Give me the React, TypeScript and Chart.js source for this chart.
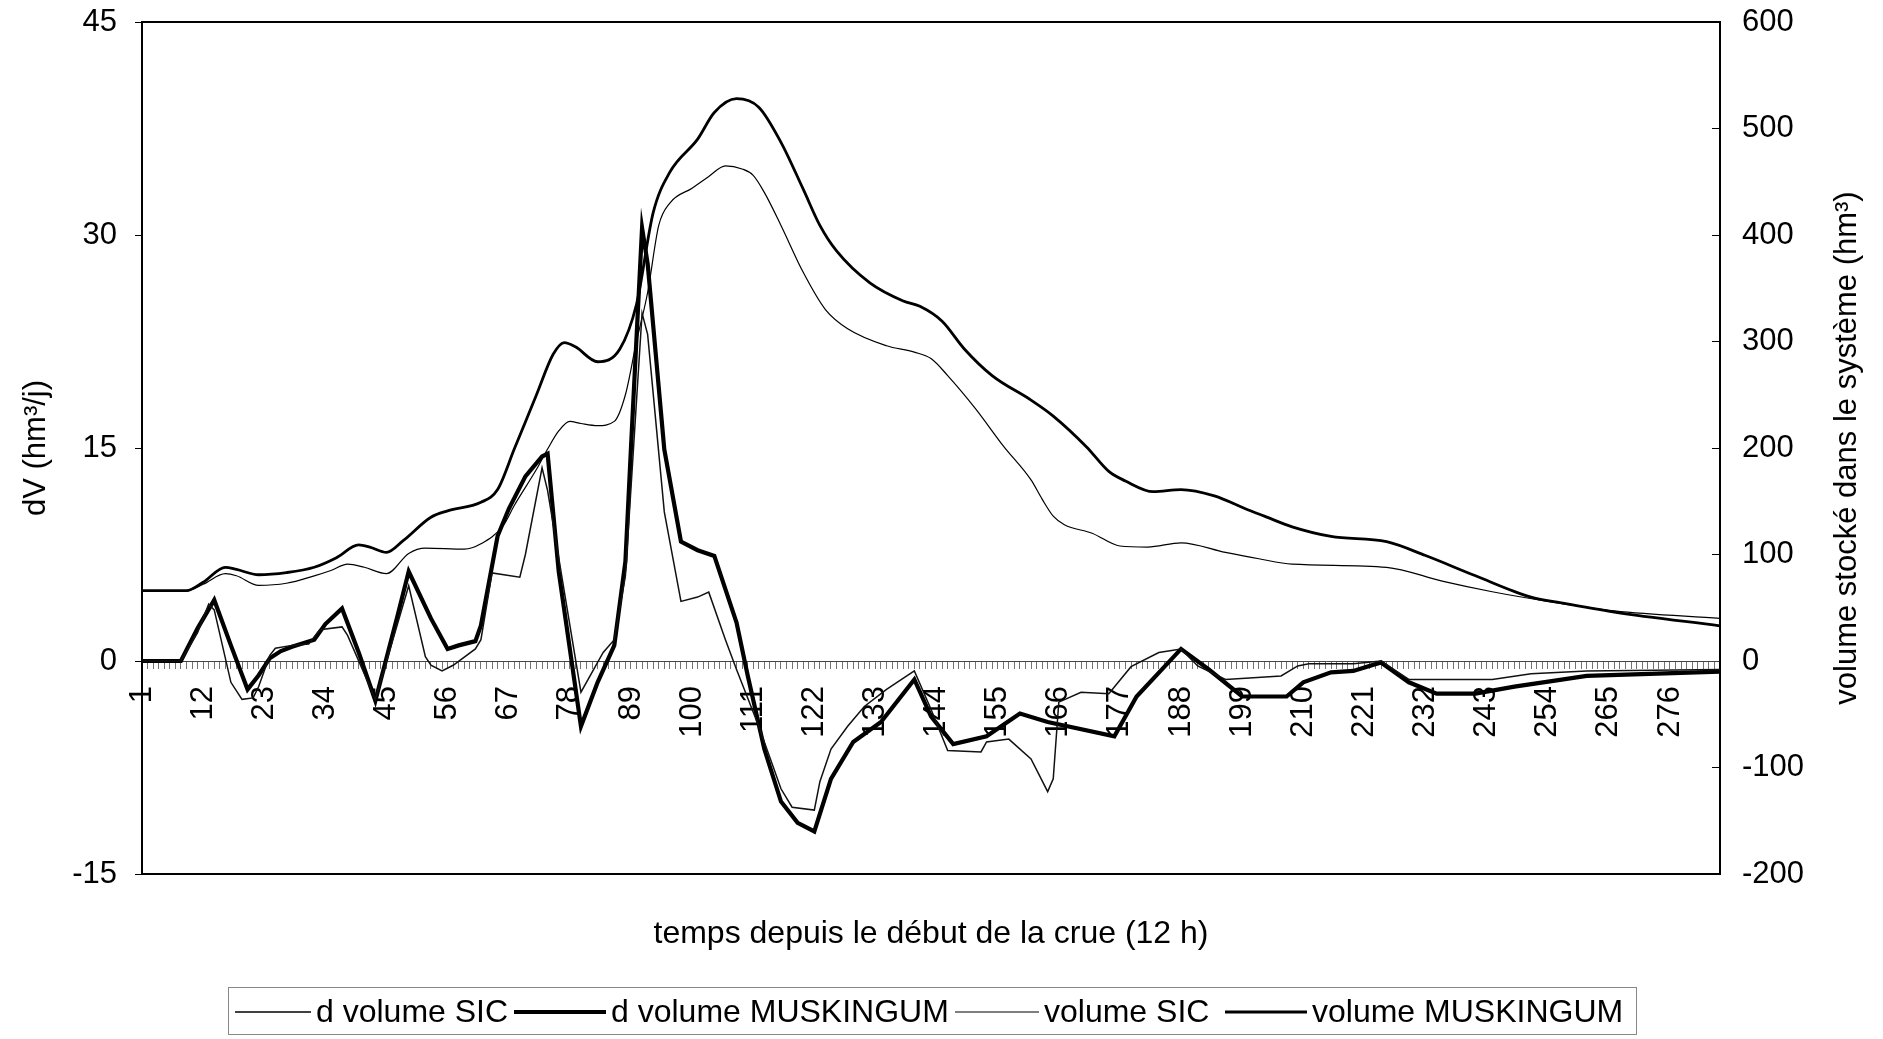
import React, { useEffect, useRef } from 'react';
import { Chart, registerables } from 'chart.js';

Chart.register(...registerables);

const FONT = '"Liberation Sans", Arial, sans-serif';

// Time steps (12 h) since the start of the flood
const categories: number[] = Array.from({ length: 285 }, (_, i) => i + 1);
const xTickLabels: number[] = [1, 12, 23, 34, 45, 56, 67, 78, 89, 100, 111, 122, 133, 144, 155, 166, 177, 188, 199, 210, 221, 232, 243, 254, 265, 276];

const xTitle = 'temps depuis le début de la crue (12 h)';
const yLeftTitle = 'dV (hm³/j)';
const yRightTitle = 'volume stocké dans le système (hm³)';

const seriesNames = ['d volume SIC', 'd volume MUSKINGUM', 'volume SIC', 'volume MUSKINGUM'];

// [time step, dV (hm3/j)]
const dVolumeSIC: [number, number][] = [
  [1, 0], [8, 0], [11, 2.0], [13, 4.0], [14, 3.6], [17, -1.5], [19, -2.7], [21, -2.6], [22, -1.8], [24, 0.4],
  [25, 0.9], [28, 1.1], [31, 1.2], [33, 2.2], [37, 2.4], [38, 1.8], [43, -2.7], [49, 5.3], [52, 0.3], [53, -0.3],
  [55, -0.7], [57, -0.3], [61, 0.85], [62, 1.5], [64, 6.2], [69, 5.9], [70, 7.5], [73, 13.6], [74, 12.0], [80, -2.2],
  [84, 0.6], [86, 1.5], [88, 6.0], [91, 24.5], [92, 23.0], [95, 10.5], [98, 4.2], [101, 4.5], [103, 4.85], [106, 1.5],
  [108, -0.6], [112, -4.6], [116, -9.0], [118, -10.3], [122, -10.5], [123, -8.5], [125, -6.2], [128, -4.6], [131, -3.2], [135, -2.0],
  [140, -0.7], [143, -3.4], [146, -6.3], [152, -6.4], [153, -5.7], [157, -5.5], [161, -6.9], [164, -9.2], [165, -8.3], [166, -2.9],
  [170, -2.2], [175, -2.3], [179, -0.4], [184, 0.6], [188, 0.85], [191, -0.35], [196, -1.3], [206, -1.05], [209, -0.35], [211, -0.2],
  [219, -0.2], [224, 0], [229, -1.3], [244, -1.3], [251, -0.9], [261, -0.7], [285, -0.6],
];

const dVolumeMUSKINGUM: [number, number][] = [
  [1, 0], [8, 0], [11, 2.3], [14, 4.3], [17, 1.1], [20, -2.0], [22, -1.0], [24, 0.2], [26, 0.7], [28, 1.0],
  [32, 1.5], [34, 2.6], [37, 3.7], [40, 0.6], [43, -2.8], [47, 3.2], [49, 6.3], [53, 3.0], [56, 0.85], [58, 1.1],
  [61, 1.4], [62, 2.5], [65, 8.8], [67, 10.7], [70, 13.0], [73, 14.4], [74, 14.6], [76, 6.3], [80, -4.6], [83, -1.5],
  [86, 1.1], [88, 7.0], [89, 15.0], [91, 30.5], [92, 28.0], [95, 14.9], [98, 8.4], [101, 7.8], [104, 7.4], [108, 2.7],
  [110, -1.0], [113, -6.2], [116, -9.9], [119, -11.4], [122, -12.0], [125, -8.3], [129, -5.7], [134, -4.3], [140, -1.3], [143, -3.9],
  [147, -5.85], [153, -5.3], [159, -3.7], [164, -4.3], [176, -5.3], [180, -2.5], [188, 0.85], [193, -0.6], [199, -2.5], [207, -2.5],
  [210, -1.5], [215, -0.8], [219, -0.7], [224, -0.1], [229, -1.5], [234, -2.3], [241, -2.3], [248, -1.8], [255, -1.4], [261, -1.05],
  [285, -0.75],
];

// [time step, stored volume (hm3)]
const volumeSIC: [number, number][] = [
  [1, 66], [9, 66], [12, 72], [16, 82], [18, 80], [22, 71], [27, 73], [32, 80], [35, 85], [38, 91],
  [41, 88], [45, 82], [49, 101], [52, 106], [59, 105], [62, 110], [66, 127], [68, 146], [72, 180], [74, 199],
  [76, 216], [78, 225], [80, 223], [83, 221], [86, 225], [88, 250], [90, 300], [92, 346], [94, 409], [96, 430],
  [100, 444], [103, 455], [106, 465], [109, 462], [111, 456], [113, 440], [116, 409], [120, 365], [124, 330], [128, 312],
  [135, 296], [140, 290], [143, 284], [146, 268], [151, 237], [156, 202], [161, 170], [163, 152], [165, 136], [167, 128],
  [172, 120], [177, 108], [182, 107], [188, 111], [196, 102], [202, 96], [208, 91], [225, 88], [235, 75], [244, 65],
  [254, 56], [266, 47], [285, 40],
];

const volumeMUSKINGUM: [number, number][] = [
  [1, 66], [9, 66], [12, 74], [16, 88], [18, 86], [22, 81], [27, 83], [32, 88], [36, 97], [40, 109],
  [42, 107], [45, 102], [48, 113], [53, 135], [56, 141], [62, 149], [65, 161], [68, 199], [72, 250], [75, 288],
  [77, 299], [79, 295], [83, 281], [87, 293], [90, 335], [93, 421], [96, 459], [101, 490], [104, 515], [108, 528],
  [112, 520], [116, 487], [120, 443], [123, 409], [126, 385], [132, 355], [138, 338], [141, 333], [145, 319], [149, 293],
  [154, 268], [161, 245], [165, 230], [171, 201], [175, 178], [178, 169], [183, 159], [188, 161], [194, 155], [200, 142],
  [203, 136], [208, 126], [215, 117], [225, 112], [232, 99], [241, 80], [251, 60], [256, 55], [266, 46], [285, 33],
];

const lineWidths = [1.5, 4.2, 1.2, 2.8];
const legendLineStart = [235, 514, 955, 1225];
const legendLineLen = [76, 92, 84, 82];

const toXY = (arr: [number, number][]) => arr.map(([x, y]) => ({ x, y }));

const decorPlugin = {
  id: 'decor',
  beforeDatasetsDraw(chart: any) {
    const { ctx, chartArea: a } = chart;
    ctx.save();
    ctx.strokeStyle = '#000';
    ctx.lineWidth = 2;
    ctx.strokeRect(a.left, a.top, a.right - a.left, a.bottom - a.top);
    ctx.restore();
  },
  afterDraw(chart: any) {
    const { ctx, chartArea: a } = chart;
    ctx.save();
    ctx.fillStyle = '#000';
    ctx.font = `32px ${FONT}`;
    ctx.textAlign = 'center';
    ctx.textBaseline = 'middle';
    ctx.fillText(xTitle, (a.left + a.right) / 2, a.bottom + 60);
    ctx.font = `31px ${FONT}`;
    const midY = (a.top + a.bottom) / 2;
    ctx.save();
    ctx.translate(36, midY);
    ctx.rotate(-Math.PI / 2);
    ctx.fillText(yLeftTitle, 0, 0);
    ctx.restore();
    ctx.save();
    ctx.translate(1847, midY);
    ctx.rotate(-Math.PI / 2);
    ctx.fillText(yRightTitle, 0, 0);
    ctx.restore();

    // legend
    ctx.strokeStyle = '#888';
    ctx.lineWidth = 1;
    ctx.strokeRect(228.5, 987.5, 1408, 47);
    ctx.font = `32px ${FONT}`;
    ctx.textAlign = 'left';
    const ly = 1012;
    seriesNames.forEach((name, i) => {
      ctx.strokeStyle = '#000';
      ctx.lineWidth = lineWidths[i];
      ctx.beginPath();
      ctx.moveTo(legendLineStart[i], ly);
      ctx.lineTo(legendLineStart[i] + legendLineLen[i], ly);
      ctx.stroke();
      ctx.fillText(name, legendLineStart[i] + legendLineLen[i] + 5, ly + 1);
    });
    ctx.restore();
  },
};

export default function App() {
  const ref = useRef<HTMLCanvasElement | null>(null);
  useEffect(() => {
    if (!ref.current) return;
    Chart.defaults.font.family = FONT;
    const chart = new Chart(ref.current, {
      type: 'line',
      data: {
        datasets: [
          { label: seriesNames[0], data: toXY(dVolumeSIC), yAxisID: 'y', borderColor: '#111', borderWidth: lineWidths[0], pointRadius: 0, tension: 0, fill: false },
          { label: seriesNames[1], data: toXY(dVolumeMUSKINGUM), yAxisID: 'y', borderColor: '#000', borderWidth: lineWidths[1], pointRadius: 0, tension: 0, fill: false },
          { label: seriesNames[2], data: toXY(volumeSIC), yAxisID: 'y2', borderColor: '#000', borderWidth: lineWidths[2], pointRadius: 0, cubicInterpolationMode: 'monotone', fill: false },
          { label: seriesNames[3], data: toXY(volumeMUSKINGUM), yAxisID: 'y2', borderColor: '#000', borderWidth: lineWidths[3], pointRadius: 0, cubicInterpolationMode: 'monotone', fill: false },
        ],
      },
      options: {
        animation: false,
        responsive: false,
        devicePixelRatio: 1,
        layout: { padding: { left: 0, right: 0, top: 22, bottom: 165 } },
        plugins: { legend: { display: false }, tooltip: { enabled: false }, title: { display: false } },
        scales: {
          x: {
            type: 'linear',
            min: categories[0],
            max: categories[categories.length - 1],
            position: { y: 0 } as any,
            afterBuildTicks: (scale: any) => {
              scale.ticks = categories.map((v) => ({ value: v }));
            },
            afterFit: (scale: any) => {
              scale.paddingLeft = 0;
              scale.paddingRight = 0;
              scale.paddingTop = 0;
              scale.paddingBottom = 0;
            },
            grid: { drawOnChartArea: false, drawTicks: true, tickLength: 7, color: 'rgba(0,0,0,0.55)', lineWidth: 1 },
            border: { display: true, color: '#444', width: 1 },
            ticks: {
              autoSkip: false,
              minRotation: 90,
              maxRotation: 90,
              padding: 18,
              color: '#000',
              font: { size: 31, family: FONT },
              callback: (v: any) => (xTickLabels.includes(Number(v)) ? String(v) : ''),
            },
          },
          y: {
            type: 'linear',
            position: 'left',
            min: -15,
            max: 45,
            afterFit: (scale: any) => {
              scale.width = 142;
              scale.paddingTop = 0;
              scale.paddingBottom = 0;
            },
            ticks: { stepSize: 15, padding: 18, color: '#000', font: { size: 31, family: FONT } },
            grid: { drawOnChartArea: false, drawTicks: true, tickLength: 7, color: '#000' },
            border: { display: true, color: '#000', width: 2 },
          },
          y2: {
            type: 'linear',
            position: 'right',
            min: -200,
            max: 600,
            afterFit: (scale: any) => {
              scale.width = 163;
              scale.paddingTop = 0;
              scale.paddingBottom = 0;
            },
            ticks: { stepSize: 100, padding: 30, color: '#000', font: { size: 31, family: FONT } },
            grid: { drawOnChartArea: false, drawTicks: true, tickLength: -8, color: '#000' },
            border: { display: true, color: '#000', width: 2 },
          },
        },
      },
      plugins: [decorPlugin],
    });
    return () => chart.destroy();
  }, []);
  return (
    <div style={{ position: 'fixed', left: 0, top: 0, width: 1883, height: 1039, background: '#fff' }}>
      <canvas ref={ref} width={1883} height={1039} style={{ display: 'block' }} />
    </div>
  );
}
